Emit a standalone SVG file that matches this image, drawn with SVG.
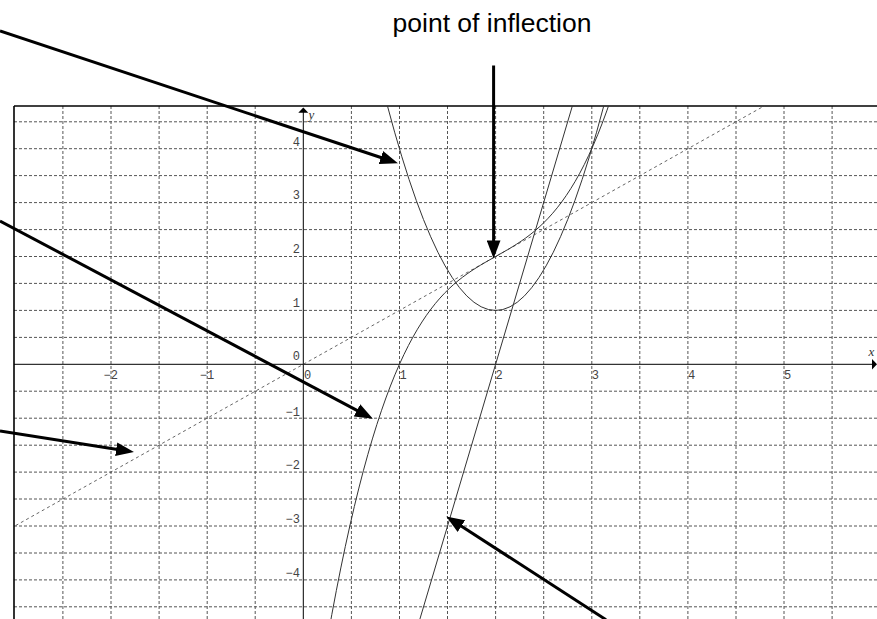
<svg xmlns="http://www.w3.org/2000/svg" width="877" height="619" viewBox="0 0 877 619">
<style>
.grid line{stroke:#555;stroke-width:1;stroke-dasharray:3 2;fill:none}
.axis{stroke:#000;stroke-width:1;fill:none}
.frame{stroke:#000;stroke-width:1.6;fill:none}
.curve{stroke:#333;stroke-width:1;fill:none}
.tangent{stroke:#555;stroke-width:0.9;stroke-dasharray:3 3;fill:none}
.tick{font-family:"Liberation Mono","DejaVu Sans Mono",monospace;font-size:12px;fill:#444}
.var{font-family:"Liberation Serif","DejaVu Serif",serif;font-style:italic;font-size:13px;fill:#333}
.arrow{stroke:#000;stroke-width:3;fill:none;marker-end:url(#ah)}
.label{font-family:"Liberation Sans",Arial,sans-serif;font-size:26.5px;fill:#000}
</style>
<defs>
<clipPath id="plot"><rect x="14" y="106" width="863" height="513"/></clipPath>
<marker id="ah" markerUnits="userSpaceOnUse" markerWidth="18" markerHeight="14" refX="9" refY="6.5" orient="auto" viewBox="0 0 17 13">
<path d="M0,0 L17,6.5 L0,13 z" fill="#000"/>
</marker>
</defs>
<rect width="877" height="619" fill="#fff"/>
<g id="grid" class="grid">
<line x1="62.9" y1="106" x2="62.9" y2="619"/>
<line x1="111" y1="106" x2="111" y2="619"/>
<line x1="159.1" y1="106" x2="159.1" y2="619"/>
<line x1="207.2" y1="106" x2="207.2" y2="619"/>
<line x1="255.2" y1="106" x2="255.2" y2="619"/>
<line x1="351.4" y1="106" x2="351.4" y2="619"/>
<line x1="399.5" y1="106" x2="399.5" y2="619"/>
<line x1="447.5" y1="106" x2="447.5" y2="619"/>
<line x1="495.6" y1="106" x2="495.6" y2="619"/>
<line x1="543.7" y1="106" x2="543.7" y2="619"/>
<line x1="591.8" y1="106" x2="591.8" y2="619"/>
<line x1="639.8" y1="106" x2="639.8" y2="619"/>
<line x1="687.9" y1="106" x2="687.9" y2="619"/>
<line x1="736" y1="106" x2="736" y2="619"/>
<line x1="784" y1="106" x2="784" y2="619"/>
<line x1="832.1" y1="106" x2="832.1" y2="619"/>
<line x1="14" y1="121.8" x2="877" y2="121.8"/>
<line x1="14" y1="148.7" x2="877" y2="148.7"/>
<line x1="14" y1="175.6" x2="877" y2="175.6"/>
<line x1="14" y1="202.6" x2="877" y2="202.6"/>
<line x1="14" y1="229.6" x2="877" y2="229.6"/>
<line x1="14" y1="256.5" x2="877" y2="256.5"/>
<line x1="14" y1="283.4" x2="877" y2="283.4"/>
<line x1="14" y1="310.4" x2="877" y2="310.4"/>
<line x1="14" y1="337.4" x2="877" y2="337.4"/>
<line x1="14" y1="391.2" x2="877" y2="391.2"/>
<line x1="14" y1="418.2" x2="877" y2="418.2"/>
<line x1="14" y1="445.2" x2="877" y2="445.2"/>
<line x1="14" y1="472.1" x2="877" y2="472.1"/>
<line x1="14" y1="499" x2="877" y2="499"/>
<line x1="14" y1="526" x2="877" y2="526"/>
<line x1="14" y1="553" x2="877" y2="553"/>
<line x1="14" y1="579.9" x2="877" y2="579.9"/>
<line x1="14" y1="606.8" x2="877" y2="606.8"/>
</g>
<g id="axes">
<line class="frame" x1="14" y1="106" x2="877" y2="106"/>
<line class="frame" x1="14" y1="106" x2="14" y2="619"/>
<line class="axis" x1="14" y1="364.3" x2="873" y2="364.3"/>
<path d="M872,359 L877,364.3 L872,369.6 z" fill="#000"/>
<line class="axis" x1="303.3" y1="619" x2="303.3" y2="112"/>
<path d="M298.3,112.7 L303.3,107.5 L308.3,112.7 z" fill="#000"/>
<text class="var" x="308.5" y="118.5">y</text>
<text class="var" x="868.5" y="356">x</text>
</g>
<g id="ticks" class="tick">
<text x="300" y="145.5" text-anchor="end">4</text>
<text x="300" y="199" text-anchor="end">3</text>
<text x="300" y="253" text-anchor="end">2</text>
<text x="300" y="307" text-anchor="end">1</text>
<text x="300" y="360" text-anchor="end">0</text>
<text x="300" y="415.5" text-anchor="end">−1</text>
<text x="300" y="469" text-anchor="end">−2</text>
<text x="300" y="523" text-anchor="end">−3</text>
<text x="300" y="576.5" text-anchor="end">−4</text>
<text x="103.5" y="379">−2</text>
<text x="199.8" y="379">−1</text>
<text x="304" y="379">0</text>
<text x="399.5" y="379">1</text>
<text x="495.6" y="379">2</text>
<text x="591.8" y="379">3</text>
<text x="687.9" y="379">4</text>
<text x="784" y="379">5</text>
</g>
<g id="curves" clip-path="url(#plot)">
<path id="tangent-line" class="tangent" d="M5.2,531.4 L784.1,94.8"/>
<path id="parabola" class="curve" d="M380.2,77.6 Q495.6,543.3 611,77.6"/>
<path id="cubic" class="curve" d="M327.3,639.7 C423.5,90.6 519.6,390.4 615.8,83.9"/>
<path id="second-derivative" class="curve" d="M409.1,655.4 L582.1,73.2"/>
</g>
<g id="connectors">
<line class="arrow" x1="0" y1="31" x2="389.9" y2="160.5"/>
<line class="arrow" x1="0" y1="221" x2="365.4" y2="414.8"/>
<line class="arrow" x1="0" y1="431" x2="125.6" y2="450.8"/>
<line class="arrow" x1="606" y1="619.7" x2="453.4" y2="521"/>
<line class="arrow" x1="493.6" y1="65.5" x2="493.6" y2="250"/>
</g>
<g id="label-inflection">
<text class="label" x="492" y="32" text-anchor="middle">point of inflection</text>
</g>
</svg>
